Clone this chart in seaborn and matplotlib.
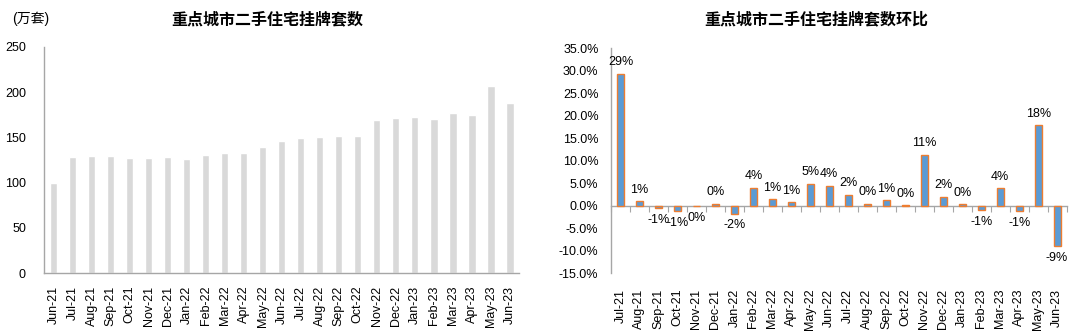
import numpy as np
import matplotlib
matplotlib.use("Agg")
import matplotlib.pyplot as plt
import seaborn as sns
from matplotlib.ticker import PercentFormatter

# Monthly listings of second-hand homes in key cities (10k units)
months = ["Jun-21", "Jul-21", "Aug-21", "Sep-21", "Oct-21", "Nov-21", "Dec-21",
          "Jan-22", "Feb-22", "Mar-22", "Apr-22", "May-22", "Jun-22", "Jul-22",
          "Aug-22", "Sep-22", "Oct-22", "Nov-22", "Dec-22", "Jan-23", "Feb-23",
          "Mar-23", "Apr-23", "May-23", "Jun-23"]
listings = [99.3, 128.3, 129.8, 129.0, 127.6, 127.6, 127.9,
            125.7, 130.5, 132.4, 133.1, 139.7, 146.0, 149.3,
            150.0, 151.5, 151.5, 168.8, 171.7, 172.1, 170.6,
            177.2, 175.0, 206.3, 187.9]

# Month-over-month change (%)
mom_months = months[1:]
mom_pct = [29.4, 1.0, -0.6, -1.2, -0.15, 0.44, -1.8, 4.0, 1.4, 0.74, 4.9,
           4.4, 2.4, 0.44, 1.2, 0.07, 11.4, 2.0, 0.3, -1.0, 3.9, -1.2,
           17.9, -9.0]

left_title = "重点城市二手住宅挂牌套数"
right_title = "重点城市二手住宅挂牌套数环比"
unit_label = "(万套)"

sns.set_style("white")
plt.rcParams["font.family"] = ["Liberation Sans", "Noto Sans CJK SC", "DejaVu Sans"]
plt.rcParams["axes.unicode_minus"] = False

AXIS_GRAY = "#A6A6A6"
TEXT = "#000000"

fig = plt.figure(figsize=(10.8, 3.35), dpi=100)
ax1 = fig.add_axes([0.0407, 0.1842, 0.4401, 0.6764])
ax2 = fig.add_axes([0.5657, 0.1842, 0.4219, 0.6716])

# ---- left: listings ----
sns.barplot(x=months, y=listings, color="#D9D9D9", saturation=1, width=0.4,
            ax=ax1)
n1 = len(months)
ax1.set_xlim(-0.5, n1 - 0.5)
ax1.set_ylim(0, 250)
ax1.set_yticks(np.arange(0, 251, 50))
ax1.set_xlabel("")
ax1.set_ylabel("")

# ---- right: month-over-month ----
sns.barplot(x=mom_months, y=mom_pct, color="#5B9BD5", saturation=1,
            width=0.38, edgecolor="#ED7D31", linewidth=1.0, ax=ax2)
n2 = len(mom_months)
ax2.set_xlim(-0.5, n2 - 0.5)
ymin, ymax = -15, 35
ax2.set_ylim(ymin, ymax)
ax2.set_yticks(np.arange(ymin, ymax + 0.1, 5))
ax2.yaxis.set_major_formatter(PercentFormatter(decimals=1))
ax2.set_xlabel("")
ax2.set_ylabel("")

labels = [f"{int(np.floor(v + 0.5))}%" for v in mom_pct]
ax2.bar_label(ax2.containers[0], labels=labels, padding=4, fontsize=9,
              color=TEXT)

for ax in (ax1, ax2):
    for side in ("top", "right"):
        ax.spines[side].set_visible(False)
    ax.spines["left"].set_color(AXIS_GRAY)
    ax.spines["left"].set_linewidth(1.0)
    ax.tick_params(axis="y", direction="in", length=3, width=0.8,
                   color=AXIS_GRAY, labelsize=9, labelcolor=TEXT)
    ax.tick_params(axis="x", which="major", length=0, labelsize=9,
                   labelrotation=90, labelcolor=TEXT)

ax1.tick_params(axis="y", pad=13)
ax2.tick_params(axis="y", pad=9)
ax1.tick_params(axis="x", pad=9)
ax2.tick_params(axis="x", pad=11)

# category boundary ticks on the left chart's base line
ax1.spines["bottom"].set_color(AXIS_GRAY)
ax1.spines["bottom"].set_linewidth(1.0)
ax1.set_xticks(np.arange(n1 + 1) - 0.5, minor=True)
ax1.tick_params(axis="x", which="minor", direction="out", length=4,
                width=0.8, color=AXIS_GRAY)

# right chart: base line sits at zero, labels stay at the bottom
ax2.spines["bottom"].set_visible(False)
zero_loc = (0 - ymin) / (ymax - ymin)
sec = ax2.secondary_xaxis(zero_loc)
sec.set_xticks(np.arange(n2 + 1) - 0.5)
sec.set_xticklabels([])
sec.xaxis.set_ticks_position("bottom")
sec.spines["bottom"].set_visible(True)
sec.spines["bottom"].set_color(AXIS_GRAY)
sec.spines["bottom"].set_linewidth(1.0)
sec.spines["top"].set_visible(False)
sec.tick_params(axis="x", direction="out", length=4, width=0.8,
                color=AXIS_GRAY)

# titles and unit
fig.text(267 / 1080, 1 - 19 / 335, left_title, ha="center", va="center",
         fontsize=11.5, fontweight="bold", color=TEXT)
fig.text(816 / 1080, 1 - 19 / 335, right_title, ha="center", va="center",
         fontsize=11.5, fontweight="bold", color=TEXT)
fig.text(12 / 1080, 1 - 19 / 335, unit_label, ha="left", va="center",
         fontsize=10, color=TEXT)

fig.savefig("out.png", dpi=100)
